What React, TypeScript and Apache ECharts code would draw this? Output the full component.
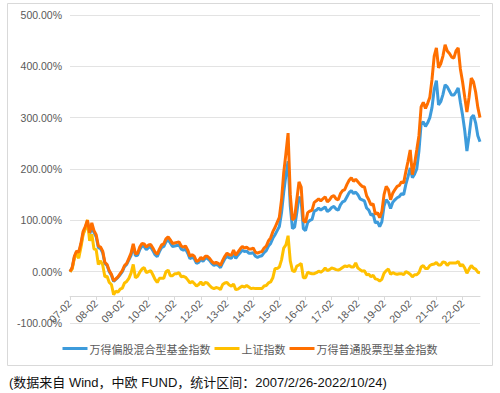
import React, { useEffect, useRef } from "react";
import * as echarts from "echarts";

// Monthly categories 2007-02 .. 2022-10
const categories: string[] = [];
for (let y = 2007; y <= 2022; y++) {
  for (let m = 1; m <= 12; m++) {
    if (y === 2007 && m < 2) continue;
    if (y === 2022 && m > 10) continue;
    categories.push(`${y}-${String(m).padStart(2, "0")}`);
  }
}

const seriesNames = ["万得偏股混合型基金指数", "上证指数", "万得普通股票型基金指数"];

// 万得偏股混合型基金指数 (%)
const hybridFund = [
  0, 7, 28, 38, 35, 52, 74, 84, 96, 72, 88,
  76, 68, 47, 45, 37, 16, 12, 0, -7, -19, -15, -11,
  -6, 0, 10, 14, 23, 32, 50, 31, 32, 43, 50, 49,
  43, 47, 48, 41, 33, 29, 39, 47, 49, 58, 62, 56,
  49, 50, 51, 52, 44, 42, 44, 36, 25, 28, 25, 16,
  18, 24, 20, 26, 26, 22, 16, 12, 14, 12, 8, 17,
  25, 30, 27, 26, 36, 26, 32, 37, 42, 39, 40, 36,
  36, 37, 30, 28, 30, 31, 37, 41, 50, 55, 65, 72,
  80, 88, 115, 155, 188, 215, 128, 84, 87, 115, 146, 138,
  84, 80, 96, 100, 102, 118, 120, 124, 120, 123, 126, 117,
  120, 125, 127, 122, 120, 130, 136, 138, 146, 154, 158, 152,
  155, 150, 142, 140, 138, 124, 120, 110, 112, 95, 97, 88,
  97, 128, 140, 135, 123, 135, 140, 144, 146, 152, 150, 170,
  185, 202, 183, 190, 200, 235, 288, 292, 283, 290, 300, 320,
  355, 372, 325, 331, 345, 364, 360, 352, 344, 344, 350, 358,
  330, 305, 275, 235, 265, 300, 305, 290, 265, 253,
];

// 上证指数 (%)
const shanghai = [
  0, 5, 26, 35, 26, 47, 72, 83, 101, 60, 73,
  44, 43, 14, 21, 13, -10, -9, -21, -25, -45, -38, -40,
  -34, -32, -22, -19, -13, -3, 14, -12, -9, -1, 5, 8,
  -2, 0, 2, -6, -15, -21, -13, -13, -13, 0, 3, -8,
  -8, -4, -4, -2, -10, -9, -11, -16, -22, -19, -23, -28,
  -25, -20, -26, -21, -22, -27, -31, -33, -31, -32, -35, -25,
  -22, -21, -26, -28, -24, -35, -34, -31, -28, -30, -27, -30,
  -33, -32, -33, -33, -33, -33, -28, -27, -22, -20, -12, 6,
  6, 9, 23, 46, 52, 70, 21, 2, 0, 11, 13, 16,
  -12, -12, -1, -3, -4, -4, -2, 1, -1, 2, 7, 2,
  4, 7, 6, 4, 3, 5, 8, 11, 10, 12, 9, 9,
  17, 7, 4, 1, 2, -6, -5, -10, -7, -14, -15, -18,
  -15, -3, 2, 5, -5, -2, -4, -5, -4, -4, -6, 0,
  -2, -5, -10, -6, -6, -2, 9, 12, 6, 6, 12, 14,
  15, 18, 13, 13, 19, 18, 12, 17, 17, 17, 17, 20,
  11, 14, 7, -3, 5, 12, 7, 5, -1, -2,
];

// 万得普通股票型基金指数 (%)
const stockFund = [
  0, 8, 30, 40, 38, 55, 78, 88, 100, 76, 95,
  80, 72, 50, 48, 40, 18, 14, 2, -5, -18, -14, -10,
  -4, 2, 12, 16, 26, 36, 54, 35, 36, 48, 55, 54,
  48, 52, 53, 46, 38, 34, 44, 52, 54, 64, 68, 62,
  55, 56, 57, 58, 50, 48, 50, 42, 30, 33, 30, 20,
  22, 28, 24, 30, 30, 26, 20, 16, 18, 16, 12, 22,
  30, 36, 33, 32, 42, 32, 38, 44, 49, 46, 48, 44,
  44, 46, 38, 36, 38, 39, 46, 50, 60, 66, 78, 86,
  96, 106, 140, 193, 230, 270, 150, 101, 105, 140, 175, 165,
  100, 96, 115, 118, 120, 135, 138, 142, 138, 142, 146, 136,
  140, 146, 148, 142, 140, 152, 158, 160, 170, 178, 183, 176,
  180, 175, 170, 166, 165, 148, 140, 130, 132, 112, 115, 105,
  117, 150, 166, 160, 140, 153, 160, 166, 168, 175, 173, 195,
  215, 237, 189, 210, 237, 265, 321, 330, 318, 328, 340, 375,
  420, 436, 397, 405, 420, 442, 430, 425, 418, 416, 430, 436,
  395, 370, 340, 311, 340, 377, 370, 350, 320, 300,
];

const yTicks = { min: -100, max: 500, interval: 100 };
const footnote = "(数据来自 Wind，中欧 FUND，统计区间：2007/2/26-2022/10/24)";

const colors = ["#3D9BDB", "#FFC000", "#FF6F00"];
const latin = "'Liberation Sans', 'Noto Sans CJK SC', sans-serif";
const cjk = "'Noto Sans CJK SC', sans-serif";

export default function App() {
  const ref = useRef<HTMLDivElement>(null);
  useEffect(() => {
    if (!ref.current) return;
    const chart = echarts.init(ref.current, undefined, { renderer: "svg" });
    const isFeb = (i: number) => categories[i].endsWith("-02");
    chart.setOption({
      animation: false,
      color: colors,
      grid: { left: 70, right: 20, top: 15, bottom: 70, containLabel: false },
      legend: {
        bottom: 34,
        left: "center",
        icon: "rect",
        itemWidth: 25,
        itemHeight: 3,
        itemGap: 4,
        data: seriesNames,
        textStyle: { color: "#595959", fontSize: 11, fontFamily: cjk, padding: [0, 0, 0, -3] },
      },
      xAxis: {
        type: "category",
        data: categories,
        boundaryGap: false,
        position: "bottom",
        offset: -27,
        axisLine: { onZero: false, lineStyle: { color: "#d9d9d9" } },
        axisTick: {
          show: true,
          length: 4,
          interval: (i: number) => isFeb(i),
          lineStyle: { color: "#d9d9d9" },
        },
        axisLabel: {
          interval: (i: number) => isFeb(i),
          rotate: 45,
          margin: 6,
          color: "#595959",
          fontSize: 10.5,
          fontFamily: latin,
          formatter: (v: string) => v.slice(2),
        },
        splitLine: { show: false },
      },
      yAxis: {
        type: "value",
        min: yTicks.min,
        max: yTicks.max,
        interval: yTicks.interval,
        axisLine: { show: false },
        axisTick: { show: false },
        axisLabel: {
          color: "#595959",
          fontSize: 10.5,
          fontFamily: latin,
          margin: 8,
          formatter: (v: number) => `${v.toFixed(2)}%`,
        },
        splitLine: { lineStyle: { color: "#e3e3e3", width: 1 } },
      },
      series: [
        { name: seriesNames[0], type: "line", data: hybridFund, showSymbol: false, lineStyle: { width: 3 }, z: 2 },
        { name: seriesNames[1], type: "line", data: shanghai, showSymbol: false, lineStyle: { width: 3 }, z: 3 },
        { name: seriesNames[2], type: "line", data: stockFund, showSymbol: false, lineStyle: { width: 3 }, z: 4 },
      ],
      graphic: [
        {
          type: "rect",
          shape: { x: 7.5, y: 3.5, width: 485, height: 362 },
          style: { fill: "none", stroke: "#d9d9d9", lineWidth: 1 },
          silent: true,
          z: -1,
        },
        {
          type: "text",
          x: 9,
          y: 382,
          style: {
            text: footnote,
            fill: "#111",
            fontSize: 13,
            fontFamily: latin,
            verticalAlign: "middle",
          },
        },
      ],
    });
    return () => chart.dispose();
  }, []);
  return (
    <div
      ref={ref}
      style={{ position: "fixed", left: 0, top: 0, width: 500, height: 393, background: "#fff" }}
    />
  );
}
